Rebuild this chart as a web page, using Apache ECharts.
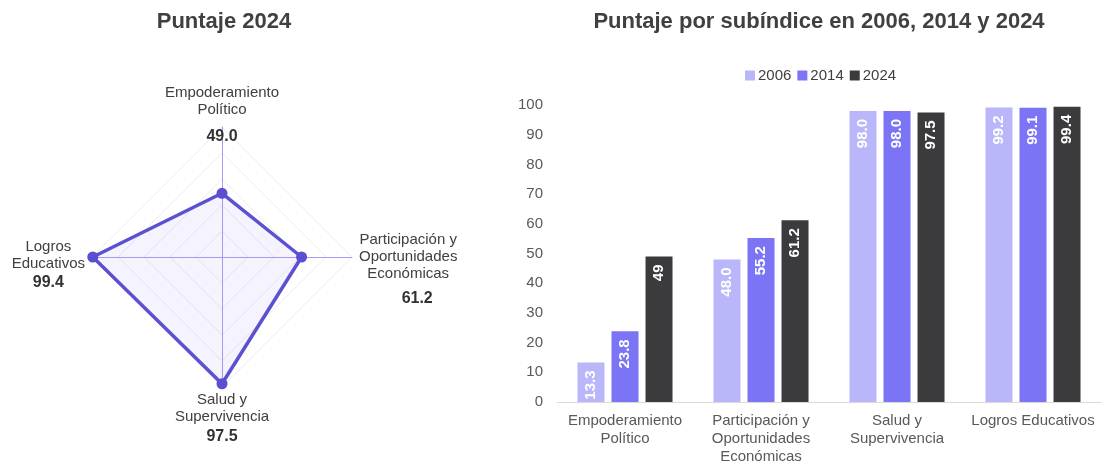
<!DOCTYPE html>
<html lang="es">
<head>
    <meta charset="UTF-8">
    <title>Puntaje 2024</title>
    <script type="text/javascript" src="https://cdn.jsdelivr.net/npm/echarts@6/dist/echarts.min.js"></script>
    <style>
        html, body { margin: 0; padding: 0; background: #fff; }
    </style>
</head>
<body>
<div id="main" style="width: 1102px;height:466px;"></div>
<script>
    // datos
    var subindices = ['Empoderamiento\nPolítico', 'Participación y\nOportunidades\nEconómicas', 'Salud y\nSupervivencia', 'Logros Educativos'];
    // el radar de echarts va en sentido antihorario: arriba, izquierda, abajo, derecha
    var radarNames = ['Empoderamiento\nPolítico', 'Logros\nEducativos', 'Salud y\nSupervivencia', 'Participación y\nOportunidades\nEconómicas'];
    var puntaje2024Radar = [49.0, 99.4, 97.5, 61.2];
    var years = ['2006', '2014', '2024'];
    var valores2006 = [13.3, 48.0, 98.0, 99.2];
    var valores2014 = [23.8, 55.2, 98.0, 99.1];
    var valores2024 = [49, 61.2, 97.5, 99.4];
    var yTicks = [0, 100, 10];

    var font = '"Liberation Sans", Arial, sans-serif';
    // espacio antes del texto de cada eje del radar y estilo del valor
    var spacer = [0, 18, 51, 32];
    var valStyle = ['v1', 'v3', 'v3', 'v2'];

    var indicators = radarNames.map(function (n) {
        return {name: n, max: 100};
    });

    function radarLabel(name) {
        var i = radarNames.indexOf(name);
        var lines = name.split('\n').map(function (l) {
            return '{n|' + l + '}';
        });
        var s = lines.join('\n') + '\n{' + valStyle[i] + '|' + puntaje2024Radar[i].toFixed(1) + '}';
        if (spacer[i] > 0) {
            s = '{s' + i + '| }\n' + s;
        }
        return s;
    }

    var rich = {
        n: {fontSize: 15, lineHeight: 17, color: '#404040', align: 'center', fontFamily: font},
        v1: {fontSize: 16, fontWeight: 'bold', lineHeight: 38, color: '#333', align: 'center', fontFamily: font},
        v2: {fontSize: 16, fontWeight: 'bold', lineHeight: 32, color: '#333', align: 'center', fontFamily: font, padding: [0, 0, 0, 18]},
        v3: {fontSize: 16, fontWeight: 'bold', lineHeight: 22, color: '#333', align: 'center', fontFamily: font}
    };
    spacer.forEach(function (h, i) {
        rich['s' + i] = {fontSize: 1, lineHeight: h};
    });

    function barLabel(fixed) {
        return {
            show: true,
            position: 'insideTop',
            rotate: 90,
            align: 'right',
            verticalAlign: 'middle',
            distance: 8,
            color: '#fff',
            fontSize: 15,
            fontWeight: 'bold',
            fontFamily: font,
            formatter: function (p) {
                return fixed ? p.value.toFixed(1) : String(p.value);
            }
        };
    }

    var option = {
        animation: false,
        backgroundColor: '#fff',
        textStyle: {fontFamily: font},
        title: [{
            text: 'Puntaje 2024',
            left: 219,
            top: 6,
            textAlign: 'center',
            textStyle: {fontSize: 22, fontWeight: 'bold', color: '#404040', fontFamily: font}
        }, {
            text: 'Puntaje por subíndice en 2006, 2014 y 2024',
            left: 814,
            top: 6,
            textAlign: 'center',
            textStyle: {fontSize: 22, fontWeight: 'bold', color: '#404040', fontFamily: font}
        }],
        legend: {
            data: years,
            left: 740,
            top: 63,
            icon: 'rect',
            itemWidth: 10,
            itemHeight: 10,
            itemGap: 6,
            textStyle: {fontSize: 15, color: '#404040', fontFamily: font, padding: [0, 0, 0, -2]}
        },
        radar: {
            center: [222, 257],
            radius: 130,
            startAngle: 90,
            shape: 'polygon',
            splitNumber: 5,
            indicator: indicators,
            axisNameGap: 7,
            axisName: {
                verticalAlign: 'middle',
                formatter: radarLabel,
                rich: rich
            },
            axisLine: {lineStyle: {color: '#a99cf2', width: 1}},
            splitLine: {lineStyle: {color: '#ececec', width: 1}},
            splitArea: {show: false}
        },
        grid: {left: 557, right: 1, top: 105, bottom: 63},
        xAxis: {
            type: 'category',
            data: subindices,
            axisLine: {lineStyle: {color: '#d9d9d9'}},
            axisTick: {show: false},
            axisLabel: {interval: 0, fontSize: 15, color: '#595959', lineHeight: 18, margin: 10, fontFamily: font}
        },
        yAxis: {
            type: 'value',
            min: yTicks[0],
            max: yTicks[1],
            interval: yTicks[2],
            splitLine: {show: false},
            axisLine: {show: false},
            axisTick: {show: false},
            axisLabel: {fontSize: 15, color: '#595959', margin: 14, fontFamily: font}
        },
        series: [{
            type: 'radar',
            symbol: 'circle',
            symbolSize: 11,
            lineStyle: {color: '#5a4fcf', width: 3.5},
            itemStyle: {color: '#5a4fcf'},
            areaStyle: {color: 'rgba(130, 120, 240, 0.13)'},
            data: [{value: puntaje2024Radar, name: 'Puntaje 2024'}]
        }, {
            name: years[0],
            type: 'bar',
            data: valores2006,
            barWidth: 27,
            barGap: '26%',
            itemStyle: {color: '#b9b6f9'},
            label: barLabel(true)
        }, {
            name: years[1],
            type: 'bar',
            data: valores2014,
            barWidth: 27,
            barGap: '26%',
            itemStyle: {color: '#7b74f4'},
            label: barLabel(true)
        }, {
            name: years[2],
            type: 'bar',
            data: valores2024,
            barWidth: 27,
            barGap: '26%',
            itemStyle: {color: '#3b3b3e'},
            label: barLabel(false)
        }]
    };

    var myChart = echarts.init(document.getElementById('main'));
    myChart.setOption(option);
</script>
</body>
</html>
